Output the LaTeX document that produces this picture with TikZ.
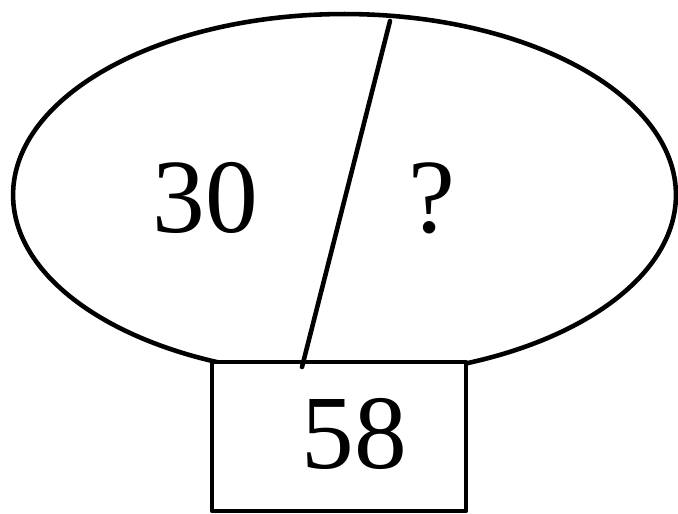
\documentclass[tikz,border=0pt]{standalone}
\usepackage{fontspec}
\setmainfont{Liberation Serif}
\usetikzlibrary{shapes.geometric}
\begin{document}
\begin{tikzpicture}[x=0.02cm,y=-0.02cm,line cap=round,line join=round]
  \useasboundingbox (0,0) rectangle (678,513);
  \tikzset{
    numtext/.style={inner sep=0pt,font=\fontsize{60}{60}\selectfont},
    outline/.style={draw,line width=2.6pt}
  }
  \node[outline,ellipse,minimum width=13.26cm,minimum height=7.24cm,inner sep=0pt] (whole) at (344.5,195) {};
  \node[outline,fill=white,minimum width=5.08cm,minimum height=2.98cm,inner sep=0pt] (total) at (339,436.5) {};
  \coordinate (cuttop) at (390,21);
  \coordinate (cutbot) at (302,367);
  \draw[line width=2.6pt] (cuttop) -- (cutbot);
  \node[numtext] (left) at (205,198) {30};
  \node[numtext] (right) at (432,198) {?};
  \node[numtext] (sum) at (354,434) {58};
\end{tikzpicture}
\end{document}
